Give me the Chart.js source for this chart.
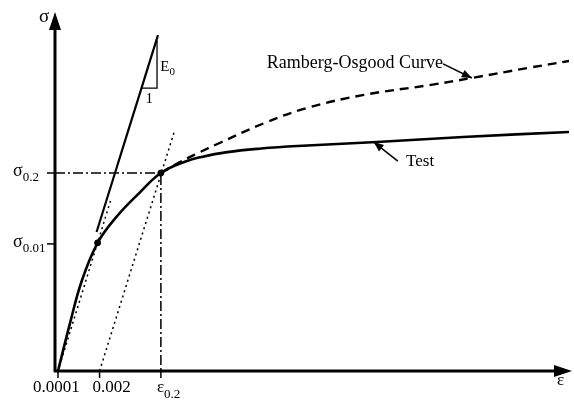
<!DOCTYPE html>
<html>
<head>
<meta charset="utf-8">
<script src="https://cdn.jsdelivr.net/npm/chart.js@4"></script>
<style>
  body { margin: 0; background: #fff; }
  #wrap { width: 574px; height: 401px; }
</style>
</head>
<body>
<div id="wrap"><canvas id="myChart"></canvas></div>
<script>
// schematic units: strain axis 0..100, stress axis 0..100
const testX = [0.58, 2.89, 5.2, 8.29, 11.95, 16.38, 20.6, 25.4, 28.3, 33.5, 40.1, 47.2, 62.6, 79.4, 100];
const testY = [0, 13.1, 25.0, 35.6, 42.8, 49.4, 55.0, 58.2, 59.4, 60.8, 61.8, 62.5, 63.6, 65.0, 66.4];

const roX = [20.6, 24.1, 27.9, 31.8, 40.8, 49.1, 60.1, 72.8, 81.1, 92.1, 100];
const roY = [55.0, 57.9, 60.6, 63.2, 68.9, 73.1, 76.7, 79.4, 81.4, 84.2, 86.1];

const e0X = [8.09, 20.04];
const e0Y = [38.6, 93.3];
const slopeX = [16.8, 19.85, 19.85];
const slopeY = [78.6, 78.6, 91.9];

const offset1X = [0.58, 10.98];
const offset1Y = [0, 48.1];
const offset2X = [8.67, 23.3];
const offset2Y = [0, 66.9];

const yieldX = [0, 20.6, 20.6];
const yieldY = [55, 55, 0];

const markX = [8.29, 20.6];
const markY = [35.6, 55];

const xTickValues = [0.58, 8.67, 20.6];
const xTickLabels = ['0.0001', '0.002', 'ε'];
const xTickSubs = ['', '', '0.2'];
const yTickValues = [55, 35.3];
const yTickLabels = ['σ', 'σ'];
const yTickSubs = ['0.2', '0.01'];

function pts(xs, ys) {
    return xs.map((x, i) => ({ x: x, y: ys[i] }));
}

const SERIF = '"Liberation Serif", "DejaVu Serif", serif';

function drawSub(ctx, main, sub, x, y, size, subSize, drop) {
    ctx.font = size + 'px ' + SERIF;
    ctx.textAlign = 'left';
    ctx.textBaseline = 'middle';
    ctx.fillText(main, x, y);
    const w = ctx.measureText(main).width;
    if (sub) {
        ctx.font = subSize + 'px ' + SERIF;
        ctx.fillText(sub, x + w, y + drop);
    }
}

function arrowHead(ctx, x1, y1, x2, y2, len, half) {
    const a = Math.atan2(y2 - y1, x2 - x1);
    ctx.beginPath();
    ctx.moveTo(x2, y2);
    ctx.lineTo(x2 - len * Math.cos(a) + half * Math.sin(a), y2 - len * Math.sin(a) - half * Math.cos(a));
    ctx.lineTo(x2 - len * Math.cos(a) - half * Math.sin(a), y2 - len * Math.sin(a) + half * Math.cos(a));
    ctx.closePath();
    ctx.fill();
}

const overlay = {
    id: 'overlay',
    afterDatasetsDraw(chart) {
        const ctx = chart.ctx;
        const xs = chart.scales.x;
        const ys = chart.scales.y;
        const x0 = xs.getPixelForValue(0);
        const y0 = ys.getPixelForValue(0);
        ctx.save();
        ctx.fillStyle = '#000';
        ctx.strokeStyle = '#000';

        // axes
        ctx.lineWidth = 3;
        ctx.beginPath();
        ctx.moveTo(x0, y0 + 1);
        ctx.lineTo(x0, 26);
        ctx.moveTo(x0 - 1, y0);
        ctx.lineTo(558, y0);
        ctx.stroke();
        arrowHead(ctx, x0, 40, x0, 12, 18, 6);
        arrowHead(ctx, 540, y0, 572, y0, 18, 6);

        // ticks
        ctx.lineWidth = 1.5;
        xTickValues.forEach(v => {
            const px = xs.getPixelForValue(v);
            ctx.beginPath();
            ctx.moveTo(px, y0);
            ctx.lineTo(px, y0 + 7);
            ctx.stroke();
        });
        yTickValues.forEach(v => {
            const py = ys.getPixelForValue(v);
            ctx.beginPath();
            ctx.moveTo(x0 - 8, py);
            ctx.lineTo(x0, py);
            ctx.stroke();
        });

        // tick labels
        const xLabelLeft = [-25, -7, -4];
        xTickValues.forEach((v, i) => {
            const px = xs.getPixelForValue(v);
            drawSub(ctx, xTickLabels[i], xTickSubs[i], px + xLabelLeft[i], y0 + 17, 17, 13, 7);
        });
        yTickValues.forEach((v, i) => {
            const py = ys.getPixelForValue(v);
            drawSub(ctx, yTickLabels[i], yTickSubs[i], 13, py - 2, 18, 13, 7);
        });

        // axis titles
        drawSub(ctx, 'σ', '', 39, 17, 19, 13, 0);
        drawSub(ctx, 'ε', '', 557, 381, 17, 13, 0);

        // slope triangle text
        drawSub(ctx, 'E', '0', xs.getPixelForValue(20.5), ys.getPixelForValue(84.5), 15, 11, 5);
        drawSub(ctx, '1', '', xs.getPixelForValue(17.6), ys.getPixelForValue(75.5), 15, 11, 0);

        // callouts
        ctx.lineWidth = 1.5;
        const rx1 = xs.getPixelForValue(75.5), ry1 = ys.getPixelForValue(85.3);
        const rx2 = xs.getPixelForValue(81.1), ry2 = ys.getPixelForValue(81.4);
        ctx.beginPath();
        ctx.moveTo(rx1, ry1);
        ctx.lineTo(rx2, ry2);
        ctx.stroke();
        arrowHead(ctx, rx1, ry1, rx2, ry2, 10, 4);
        drawSub(ctx, 'Ramberg-Osgood Curve', '', xs.getPixelForValue(41.2), ys.getPixelForValue(85.6), 18, 13, 0);

        const tx1 = xs.getPixelForValue(66.7), ty1 = ys.getPixelForValue(58.3);
        const tx2 = xs.getPixelForValue(62.0), ty2 = ys.getPixelForValue(63.6);
        ctx.beginPath();
        ctx.moveTo(tx1, ty1);
        ctx.lineTo(tx2, ty2);
        ctx.stroke();
        arrowHead(ctx, tx1, ty1, tx2, ty2, 10, 4);
        drawSub(ctx, 'Test', '', xs.getPixelForValue(68.3), ys.getPixelForValue(58.1), 17, 13, 0);

        ctx.restore();
    }
};

const ctx = document.getElementById('myChart').getContext('2d');
const myChart = new Chart(ctx, {
    type: 'scatter',
    data: {
        datasets: [
            {
                label: 'Test',
                data: pts(testX, testY),
                showLine: true,
                borderColor: '#000',
                borderWidth: 2.6,
                pointRadius: 0,
                tension: 0.4
            },
            {
                label: 'Ramberg-Osgood Curve',
                data: pts(roX, roY),
                showLine: true,
                borderColor: '#000',
                borderWidth: 2.4,
                borderDash: [9, 6],
                pointRadius: 0,
                tension: 0.4
            },
            {
                label: 'E0',
                data: pts(e0X, e0Y),
                showLine: true,
                borderColor: '#000',
                borderWidth: 2.2,
                pointRadius: 0
            },
            {
                label: 'slope',
                data: pts(slopeX, slopeY),
                showLine: true,
                borderColor: '#000',
                borderWidth: 1.3,
                pointRadius: 0
            },
            {
                label: 'offset 0.0001',
                data: pts(offset1X, offset1Y),
                showLine: true,
                borderColor: '#000',
                borderWidth: 1.5,
                borderDash: [2, 3.5],
                pointRadius: 0
            },
            {
                label: 'offset 0.002',
                data: pts(offset2X, offset2Y),
                showLine: true,
                borderColor: '#000',
                borderWidth: 1.5,
                borderDash: [2, 3.5],
                pointRadius: 0
            },
            {
                label: 'yield',
                data: pts(yieldX, yieldY),
                showLine: true,
                borderColor: '#000',
                borderWidth: 1.5,
                borderDash: [10, 3, 2, 3],
                pointRadius: 0
            },
            {
                label: 'marks',
                data: pts(markX, markY),
                showLine: false,
                backgroundColor: '#000',
                borderColor: '#000',
                pointRadius: 3
            }
        ]
    },
    options: {
        responsive: true,
        maintainAspectRatio: false,
        animation: false,
        layout: { padding: { left: 55, right: 0, top: 11, bottom: 30 } },
        plugins: {
            legend: { display: false },
            tooltip: { enabled: false }
        },
        scales: {
            x: { type: 'linear', min: 0, max: 100, display: false },
            y: { type: 'linear', min: 0, max: 100, display: false }
        }
    },
    plugins: [overlay]
});
</script>
</body>
</html>
